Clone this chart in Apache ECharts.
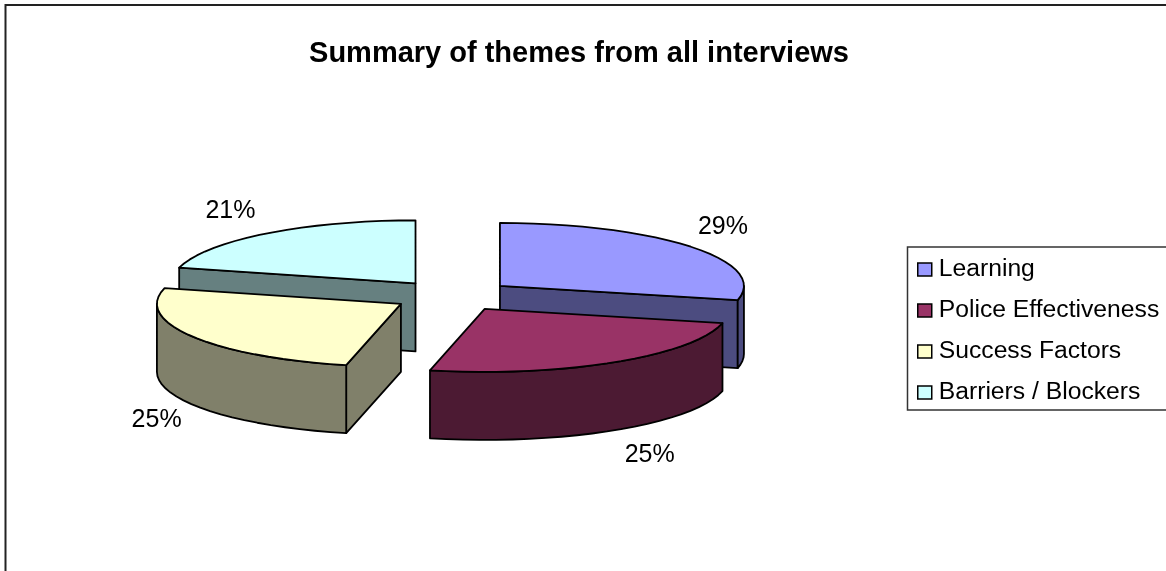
<!DOCTYPE html>
<html>
<head>
<meta charset="utf-8">
<style>html,body{margin:0;padding:0;background:#fff}#c{width:1166px;height:571px}</style>
<script src="https://cdn.jsdelivr.net/npm/echarts@6/dist/echarts.min.js"></script>
</head>
<body>
<div id="c"></div>
<script>
var categories = ['Learning', 'Police Effectiveness', 'Success Factors', 'Barriers / Blockers'];
var values = [28.6, 25.0, 25.4, 21.0];
var topColors = ['#9999FF', '#993366', '#FFFFCC', '#CCFFFF'];
var sideColors = ['#4C4C80', '#4C1A33', '#80806A', '#668080'];
var paintOrder = [2, 4, 3, 1];
// layout of the tilted pie (not data)
var pie = {cx: 452.6, cy: 295.7, rx: 244, ry: 63, depth: 68, explode: 60.5};
var labelRadX = [285, 311, 286, 302];
var labelRadY = [95, 173, 223, 92];
var FONT = '"Liberation Sans", Arial, sans-serif';

var total = values.reduce(function (a, b) { return a + b; }, 0);
var starts = [], acc = 0;
values.forEach(function (v) { starts.push(acc / total * 360); acc += v; });

function rad(d) { return d * Math.PI / 180; }
function pt(c, deg, dy) {
  return [c[0] + pie.rx * Math.sin(rad(deg)), c[1] - pie.ry * Math.cos(rad(deg)) + (dy || 0)];
}
function arc(c, a0, a1, dy) {
  var out = [], n = Math.max(1, Math.ceil((a1 - a0) / 4));
  for (var i = 0; i <= n; i++) out.push(pt(c, a0 + (a1 - a0) * i / n, dy));
  return out;
}
function poly(points, fill, z) {
  return {type: 'polygon', z2: z, shape: {points: points},
    style: {fill: fill, stroke: '#000', lineWidth: 1.8, lineJoin: 'round'}};
}
function renderSlice(i) {
  return function () {
    var a0 = starts[i], a1 = a0 + values[i] / total * 360, mid = (a0 + a1) / 2;
    var k = pie.explode;
    var c = [pie.cx + k * Math.sin(rad(mid)), pie.cy - k * pie.ry / pie.rx * Math.cos(rad(mid))];
    var d = pie.depth, side = sideColors[i], kids = [];
    function cut(a) {
      var p = pt(c, a);
      return [c, p, [p[0], p[1] + d], [c[0], c[1] + d]];
    }
    if (Math.sin(rad(a0)) < -1e-6) kids.push(poly(cut(a0), side, 1));
    if (Math.sin(rad(a1)) > 1e-6) kids.push(poly(cut(a1), side, 1));
    var w0 = Math.max(a0, 90), w1 = Math.min(a1, 270);
    if (w1 > w0) kids.push(poly(arc(c, w0, w1, 0).concat(arc(c, w0, w1, d).reverse()), side, 2));
    kids.push(poly([c].concat(arc(c, a0, a1, 0)), topColors[i], 3));
    kids.push({type: 'text', z2: 4, style: {
      text: Math.round(values[i] / total * 100) + '%',
      x: c[0] + labelRadX[i] * Math.sin(rad(mid)),
      y: c[1] - labelRadY[i] * Math.cos(rad(mid)),
      fill: '#000', font: '25px ' + FONT, align: 'center', verticalAlign: 'middle'}});
    return {type: 'group', children: kids};
  };
}

var chart = echarts.init(document.getElementById('c'), null, {renderer: 'canvas'});
chart.setOption({
  animation: false,
  backgroundColor: '#fff',
  title: {text: 'Summary of themes from all interviews', left: 574, top: 34, textAlign: 'center',
    textStyle: {fontFamily: FONT, fontWeight: 'bold', fontSize: 29, color: '#000'}},
  legend: {data: categories, orient: 'vertical', left: 917, top: 257, padding: 0, itemGap: 16,
    itemWidth: 14, itemHeight: 13, icon: 'rect',
    itemStyle: {borderColor: '#000', borderWidth: 1.5},
    textStyle: {fontFamily: FONT, fontSize: 24.7, color: '#000', padding: [0, 0, 0, 2]}},
  graphic: [
    {type: 'rect', z: -1, shape: {x: 5.5, y: 5, width: 1200, height: 600},
      style: {fill: 'none', stroke: '#222', lineWidth: 2}},
    {type: 'rect', z: -1, shape: {x: 907.5, y: 247, width: 300, height: 163},
      style: {fill: '#fff', stroke: '#333', lineWidth: 1.5}}
  ],
  series: categories.map(function (name, i) {
    return {type: 'custom', name: name, coordinateSystem: 'none', z: paintOrder[i] + 2,
      itemStyle: {color: topColors[i]}, data: [values[i]], renderItem: renderSlice(i), silent: true};
  })
});
</script>
</body>
</html>
